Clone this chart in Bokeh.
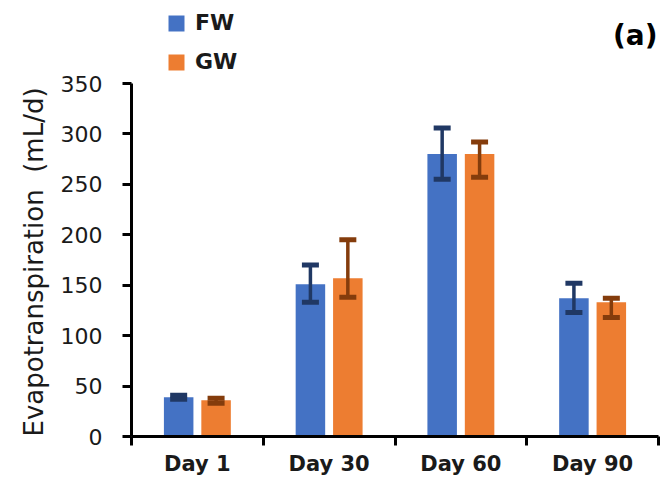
from bokeh.plotting import figure
from bokeh.models import (ColumnDataSource, Range1d, FixedTicker, Whisker, TeeHead,
                          Legend, LegendItem, Label, Title)
from bokeh.embed import file_html
from bokeh.resources import INLINE

days = ["Day 1", "Day 30", "Day 60", "Day 90"]
fw = [39, 151, 280, 137]
fw_upper = [41, 170, 306, 152]
fw_lower = [37, 133, 255, 123]
gw = [36, 157, 280, 133]
gw_upper = [38, 195, 292, 137]
gw_lower = [33, 138, 257, 118]
y_ticks = [0, 50, 100, 150, 200, 250, 300, 350]
y_max = 350

FW_COLOR = "#4472C4"
GW_COLOR = "#ED7D31"
FW_ERR = "#203864"
GW_ERR = "#843C0C"
FONT = "DejaVu Sans"
TXT = "#1a1a1a"

W, H = 661, 489
LEFT, RIGHT, BOTTOM = 131, 3, 53
FRAME_H = H - BOTTOM
AXIS_TOP_PX = 83  # pixel row of the 350 tick
y_top = y_max * FRAME_H / (FRAME_H - AXIS_TOP_PX)

centers = [i + 0.5 for i in range(len(days))]
off = 0.142
width = 0.224

src_fw = ColumnDataSource(dict(x=[c - off for c in centers], top=fw, upper=fw_upper, lower=fw_lower))
src_gw = ColumnDataSource(dict(x=[c + off for c in centers], top=gw, upper=gw_upper, lower=gw_lower))

p = figure(width=W, height=H, output_backend="svg", toolbar_location=None,
           x_range=Range1d(0, len(days)), y_range=Range1d(0, y_top),
           min_border_left=LEFT, min_border_right=RIGHT, min_border_top=0, min_border_bottom=BOTTOM)
p.outline_line_color = None
p.grid.visible = False
p.background_fill_color = "white"

r_fw = p.vbar(x="x", top="top", width=width, source=src_fw, fill_color=FW_COLOR, line_color=None)
r_gw = p.vbar(x="x", top="top", width=width, source=src_gw, fill_color=GW_COLOR, line_color=None)

for src, col in ((src_fw, FW_ERR), (src_gw, GW_ERR)):
    w = Whisker(base="x", upper="upper", lower="lower", source=src, dimension="height",
                line_color=col, line_width=3.5, level="overlay",
                upper_head=TeeHead(size=17, line_color=col, line_width=5),
                lower_head=TeeHead(size=17, line_color=col, line_width=5))
    p.add_layout(w)

# x axis
xa = p.xaxis[0]
xa.ticker = FixedTicker(ticks=centers, minor_ticks=list(range(len(days) + 1)))
xa.major_label_overrides = {c: d for c, d in zip(centers, days)}
xa.major_tick_out = 0
xa.major_tick_in = 0
xa.major_tick_line_color = None
xa.minor_tick_out = 9
xa.minor_tick_in = 0
xa.minor_tick_line_color = "black"
xa.minor_tick_line_width = 3
xa.axis_line_color = "black"
xa.axis_line_width = 3
xa.major_label_standoff = 6
xa.major_label_text_font = FONT
xa.major_label_text_font_style = "bold"
xa.major_label_text_font_size = "21px"
xa.major_label_text_color = TXT

# y axis
ya = p.yaxis[0]
ya.ticker = FixedTicker(ticks=y_ticks, minor_ticks=[])
ya.bounds = (0, y_max)
ya.major_tick_out = 9
ya.major_tick_in = 0
ya.major_tick_line_width = 3
ya.major_tick_line_color = "black"
ya.axis_line_color = "black"
ya.axis_line_width = 3
ya.major_label_standoff = 20
ya.major_label_text_font = FONT
ya.major_label_text_font_size = "22px"
ya.major_label_text_color = TXT

ytitle = Title(text="Evapotranspiration\u00a0 (mL/d)", align="left", offset=0,
               vertical_align="bottom", standoff=18,
               text_font=FONT, text_font_style="normal", text_font_size="26px", text_color=TXT)
p.add_layout(ytitle, "left")

legend = Legend(items=[LegendItem(label="FW", renderers=[r_fw]),
                       LegendItem(label="GW", renderers=[r_gw])],
                location=(35, 362), orientation="vertical",
                glyph_width=20, glyph_height=20, label_height=20, label_standoff=9,
                spacing=14, padding=0, margin=0,
                border_line_color=None, background_fill_alpha=0,
                label_text_font=FONT, label_text_font_style="bold",
                label_text_font_size="22px", label_text_color=TXT)
p.add_layout(legend, "center")

lab = Label(x=526, y=401, x_units="screen", y_units="screen", text="(a)",
            text_align="right", text_baseline="middle",
            text_font=FONT, text_font_style="bold", text_font_size="28px", text_color="black")
p.add_layout(lab)

open("out.html", "w").write(file_html(p, INLINE))
